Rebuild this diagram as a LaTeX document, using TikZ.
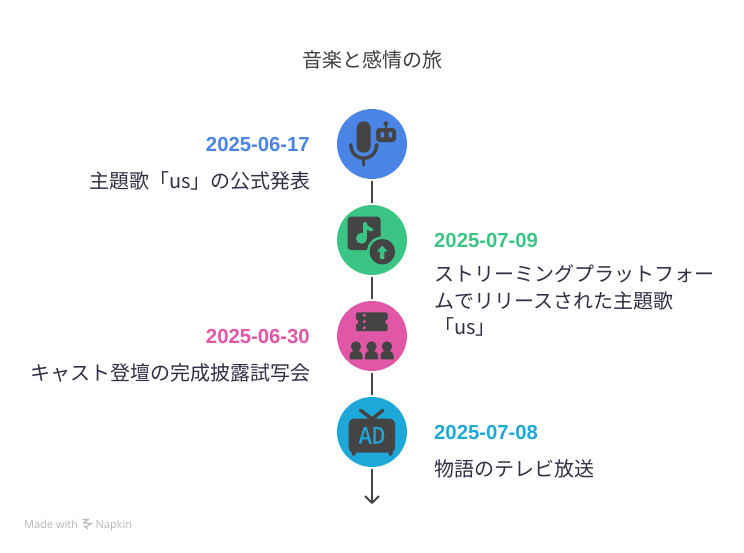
\documentclass[tikz,border=0pt]{standalone}
\usepackage{fontspec}
\usetikzlibrary{arrows.meta}
\setmainfont{Noto Sans CJK JP}
\newfontfamily\datefont{Liberation Sans}[BoldFont={Liberation Sans Bold}]
\newfontfamily\markfont{DejaVu Sans Mono}[FakeBold=0.6]
\newfontfamily\brandfont{Open Sans}
\definecolor{cblue}{HTML}{4A84E6}
\definecolor{cgreen}{HTML}{3CC485}
\definecolor{cpink}{HTML}{DF57A6}
\definecolor{ccyan}{HTML}{1EA8D9}
\definecolor{ink}{HTML}{2F3044}
\definecolor{iconc}{HTML}{444444}
\tikzset{
  disc/.style={circle,minimum size=70pt,inner sep=0pt,draw=none},
  link/.style={draw=iconc,line width=2pt,shorten >=2pt,shorten <=2pt},
  datelabel/.style={inner sep=0pt,font=\datefont\bfseries\fontsize{20.3}{24}\selectfont},
  bodylabel/.style={inner sep=0pt,text=ink,font=\fontsize{20}{26.4}\selectfont},
  brand/.style={inner sep=0pt,text=black!28,font=\brandfont\fontsize{11}{14}\selectfont},
}
\begin{document}
\begin{tikzpicture}[x=1pt,y=-1pt]
\useasboundingbox (0,0) rectangle (744,552);
\fill[white] (0,0) rectangle (744,552);
\node[bodylabel,text=black!75,anchor=base] (title) at (372.5,67.5) {音楽と感情の旅};
\node[disc,fill=cblue] (c1) at (372,144) {};
\node[disc,fill=cgreen] (c2) at (372,240) {};
\node[disc,fill=cpink] (c3) at (372,336) {};
\node[disc,fill=ccyan] (c4) at (372,432) {};
\coordinate (tip) at (372,503);
\draw[link] (c1) -- (c2);
\draw[link] (c2) -- (c3);
\draw[link] (c3) -- (c4);
\draw[link,shorten >=0pt] (c4) -- (tip);
\draw[iconc,line width=2pt,line cap=round,line join=round] ([shift={(-6.7,-6.7)}]tip) -- (tip) -- ([shift={(6.7,-6.7)}]tip);
% labels
\node[datelabel,text=cblue,anchor=base east] (d1) at (310,151) {2025-06-17};
\node[bodylabel,anchor=base east] (t1) at (311,188) {主題歌「us」の公式発表};
\node[datelabel,text=cgreen,anchor=base west] (d2) at (434,247) {2025-07-09};
\node[bodylabel,anchor=base west] (t2a) at (434,281.5) {ストリーミングプラットフォー};
\node[bodylabel,anchor=base west] (t2b) at (434,308) {ムでリリースされた主題歌};
\node[bodylabel,anchor=base west] (t2c) at (434,334) {「us」};
\node[datelabel,text=cpink,anchor=base east] (d3) at (310,343) {2025-06-30};
\node[bodylabel,anchor=base east] (t3) at (311,380) {キャスト登壇の完成披露試写会};
\node[datelabel,text=ccyan,anchor=base west] (d4) at (434,439) {2025-07-08};
\node[bodylabel,anchor=base west] (t4) at (434,476) {物語のテレビ放送};
% icon 1: microphone and robot
\fill[iconc,rounded corners=6.9pt] (356.7,121.3) rectangle (370.7,152.7);
\draw[iconc,line width=3.4pt,line cap=round] (350.7,144.5) .. controls (351.5,163) and (376,163) .. (376.7,144.5);
\draw[iconc,line width=3.2pt,line cap=round] (363.7,158) -- (363.7,165);
\fill[iconc,rounded corners=3.5pt] (376,128) rectangle (396,142);
\draw[iconc,line width=2pt] (385.8,129) -- (385.8,124);
\fill[iconc] (385.8,123.6) circle (2.4pt);
\fill[cblue,rounded corners=1pt] (380.7,132) rectangle (384,137.5);
\fill[cblue,rounded corners=1pt] (388.7,132) rectangle (392,137.5);
% icon 2: note with upload badge
\fill[iconc,rounded corners=3.5pt] (347.5,216.7) rectangle (380.7,250);
\fill[cgreen] (361.5,238.3) circle (5.5pt);
\draw[cgreen,line width=3.6pt,line cap=round,line join=round] (365,238) -- (365,223.5) .. controls (366,227.5) and (368.5,229) .. (371.5,229.8);
\fill[cgreen] (382.3,251.7) circle (15.3pt);
\fill[iconc] (382.3,251.7) circle (12.8pt);
\fill[cgreen] (382.3,245.5) -- (387.6,251.5) -- (384.4,251.5) -- (384.4,259) -- (380.2,259) -- (380.2,251.5) -- (377,251.5) -- cycle;
% icon 3: ticket and audience
\fill[iconc,rounded corners=2pt] (356,312.3) rectangle (387.5,331.2);
\fill[cpink] (356,321.8) circle (2.3pt);
\fill[cpink] (387.5,321.8) circle (2.3pt);
\fill[cpink] (364.3,315.2) circle (1.7pt);
\fill[cpink] (364.3,321.7) circle (1.7pt);
\fill[cpink] (364.3,327.9) circle (1.7pt);
\foreach \px in {356,371.5,387}{
  \fill[iconc] (\px,346.5) circle (5.2pt);
  \fill[iconc] (\px-6.5,359.3) -- (\px-6.5,356) .. controls (\px-6.5,352) and (\px-3,350.5) .. (\px,350.5) .. controls (\px+3,350.5) and (\px+6.5,352) .. (\px+6.5,356) -- (\px+6.5,359.3) -- cycle;
}
% icon 4: television
\draw[iconc,line width=3.4pt,line cap=round] (371.5,418.5) -- (360.5,410.3);
\draw[iconc,line width=3.4pt,line cap=round] (372.5,418.5) -- (383,410.3);
\fill[iconc,rounded corners=5pt] (348.7,418.7) rectangle (395,452.7);
\fill[iconc,rounded corners=1pt] (351.5,450) rectangle (355.5,455.5);
\fill[iconc,rounded corners=1pt] (388.5,450) rectangle (392.5,455.5);
\node[inner sep=0pt,text=ccyan,anchor=base,font=\markfont\fontsize{22.5}{24}\selectfont] (admark) at (372,443.5) {AD};
% credit
\node[brand,anchor=base west] (made) at (24,528) {Made with};
\node[brand,anchor=base west] (nap) at (95.5,528) {Napkin};
\draw[black!28,line width=1.1pt] (82.5,519.5) -- (88,519.5) -- (84,522.5) (83,523) -- (91.5,523.5) -- (86,527) (84,525.5) -- (88,529);
\end{tikzpicture}
\end{document}
